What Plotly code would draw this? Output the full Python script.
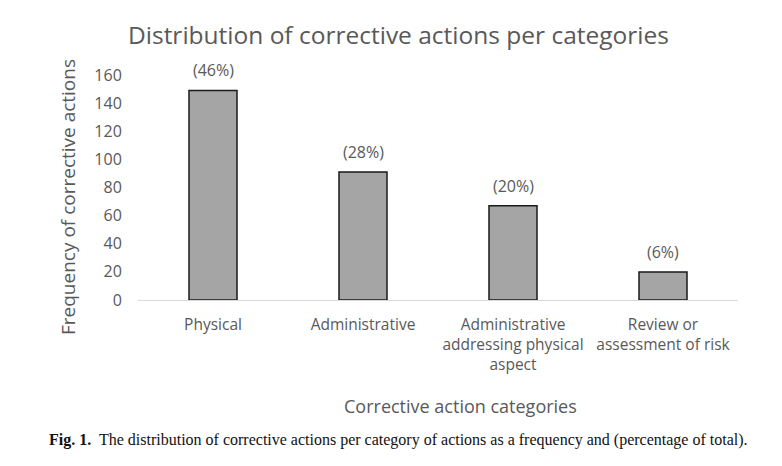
import plotly.graph_objects as go

categories = ["Physical", "Administrative",
              "Administrative<br>addressing physical<br>aspect",
              "Review or<br>assessment of risk"]
frequencies = [149, 91, 67, 20]
percent_labels = ["(46%)", "(28%)", "(20%)", "(6%)"]

gray_txt = "#595959"
font = "Open Sans"

# page has ~8px body offset; compensate in margins
L, R, T, B = 130, 52, 67, 174
W, H = 782, 466
pw = W - L - R
ph = H - T - B

def px(xs):  # screenshot x -> paper x
    return (xs - 8 - L) / pw

def py(ys):  # screenshot y -> paper y
    return (H - B - (ys - 8) ) / ph

fig = go.Figure(go.Bar(
    x=categories, y=frequencies,
    marker=dict(color="#a5a5a5", line=dict(color="#1a1a1a", width=1.5)),
))

annotations = []
for c, v, t in zip(categories, frequencies, percent_labels):
    annotations.append(dict(x=c, y=v, text=t, xref="x", yref="y", showarrow=False,
                            yanchor="bottom", yshift=7,
                            font=dict(family=font, size=16, color=gray_txt)))

annotations += [
    dict(text="Distribution of corrective actions per categories",
         x=px(398), y=py(35), xref="paper", yref="paper", showarrow=False,
         xanchor="center", yanchor="middle",
         font=dict(family=font, size=24.5, color=gray_txt)),
    dict(text="Frequency of corrective actions", textangle=-90,
         x=px(68), y=py(197), xref="paper", yref="paper", showarrow=False,
         xanchor="center", yanchor="middle",
         font=dict(family=font, size=19, color=gray_txt)),
    dict(text="Corrective action categories",
         x=px(460), y=py(406), xref="paper", yref="paper", showarrow=False,
         xanchor="center", yanchor="middle",
         font=dict(family=font, size=18, color=gray_txt)),
    dict(text="<b>Fig. 1.</b>  The distribution of corrective actions per category of actions as a frequency and (percentage of total).",
         x=px(398), y=py(440), xref="paper", yref="paper", showarrow=False,
         xanchor="center", yanchor="middle",
         font=dict(family="Liberation Serif", size=16, color="#111111")),
]

fig.update_layout(
    width=W, height=H,
    margin=dict(l=L, r=R, t=T, b=B),
    paper_bgcolor="white", plot_bgcolor="white",
    bargap=0.68,
    showlegend=False,
    font=dict(family=font, color=gray_txt),
    xaxis=dict(showline=True, linecolor="#d9d9d9", linewidth=1,
               tickfont=dict(family=font, size=15.5, color=gray_txt),
               ticks="outside", ticklen=10, tickcolor="rgba(0,0,0,0)",
               showgrid=False),
    yaxis=dict(range=[0, 160], dtick=20, showgrid=False, zeroline=False,
               showline=False, ticks="outside", ticklen=12,
               tickcolor="rgba(0,0,0,0)",
               tickfont=dict(family=font, size=16, color=gray_txt)),
    annotations=annotations,
)

fig.write_html("out.html")
